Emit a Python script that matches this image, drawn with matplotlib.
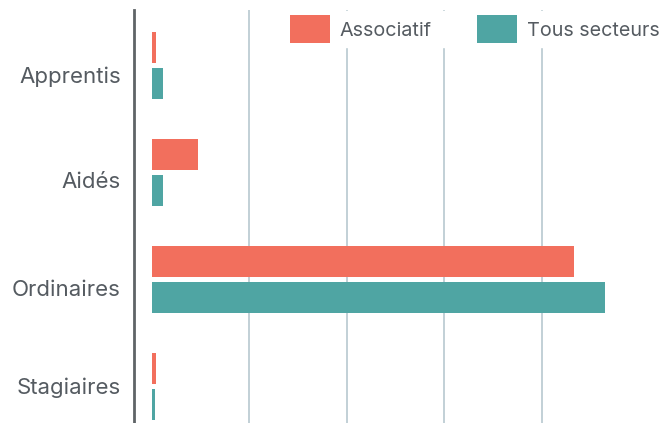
import matplotlib
matplotlib.use("Agg")
import matplotlib.pyplot as plt
from matplotlib.patches import Patch
from matplotlib.transforms import ScaledTranslation
import numpy as np

categories = ["Apprentis", "Aidés", "Ordinaires", "Stagiaires"]
associatif = [0.8, 9.5, 86.7, 0.8]
tous_secteurs = [2.3, 2.3, 93.0, 0.7]
series_names = ["Associatif", "Tous secteurs"]
grid_ticks = [20, 40, 60, 80]

c_assoc = "#F26F5D"
c_tous = "#4FA5A3"
text_col = "#555B61"

plt.rcParams['font.family'] = ['Inter', 'DejaVu Sans']

W, H = 664, 423
fig = plt.figure(figsize=(W / 100, H / 100), dpi=100)
ax_left, ax_right, ax_top, ax_bot = 134, 664, 10, 423
ax = fig.add_axes([ax_left / W, (H - ax_bot) / H, (ax_right - ax_left) / W, (ax_bot - ax_top) / H])

zero_px, px_per_unit = 152.0, 4.87
ax.set_xlim((ax_left - zero_px) / px_per_unit, (ax_right - zero_px) / px_per_unit)
cat0_px, cat_step = 65.5, 107.0
ax.set_ylim((ax_bot - cat0_px) / cat_step, (ax_top - cat0_px) / cat_step)

y = np.arange(len(categories))
h = 0.295
off = 0.17
ax.barh(y - off, associatif, height=h, color=c_assoc, zorder=3)
ax.barh(y + off, tous_secteurs, height=h, color=c_tous, zorder=3)

ax.set_xticks(grid_ticks)
ax.xaxis.grid(True, color="#B7C8CF", linewidth=1.2, zorder=0)
ax.tick_params(axis='x', length=0, labelbottom=False)
ax.set_yticks(y)
ax.set_yticklabels(categories, fontsize=16, color=text_col)
ax.tick_params(axis='y', length=0, pad=9.4)
label_shift_px = [9, 7.5, 8, -1]
for lab, d in zip(ax.get_yticklabels(), label_shift_px):
    lab.set_transform(lab.get_transform() + ScaledTranslation(0, -d / 100, fig.dpi_scale_trans))
for s in ["top", "right", "bottom"]:
    ax.spines[s].set_visible(False)
ax.spines["left"].set_color("#5F6467")
ax.spines["left"].set_linewidth(2)

handles = [Patch(facecolor=c_assoc), Patch(facecolor=c_tous)]
leg = fig.legend(handles, series_names, loc="upper right", bbox_to_anchor=(1.0, 1.0 - 11 / H),
                 ncol=2, frameon=True, fontsize=14.2, handlelength=2.03, handleheight=1.85,
                 handletextpad=0.5, columnspacing=2.33, borderaxespad=0.0, borderpad=0.2)
leg.get_frame().set_edgecolor("white")
leg.get_frame().set_facecolor("white")
leg.get_frame().set_alpha(1)
for t in leg.get_texts():
    t.set_color(text_col)

fig.savefig("out.png", dpi=100)
